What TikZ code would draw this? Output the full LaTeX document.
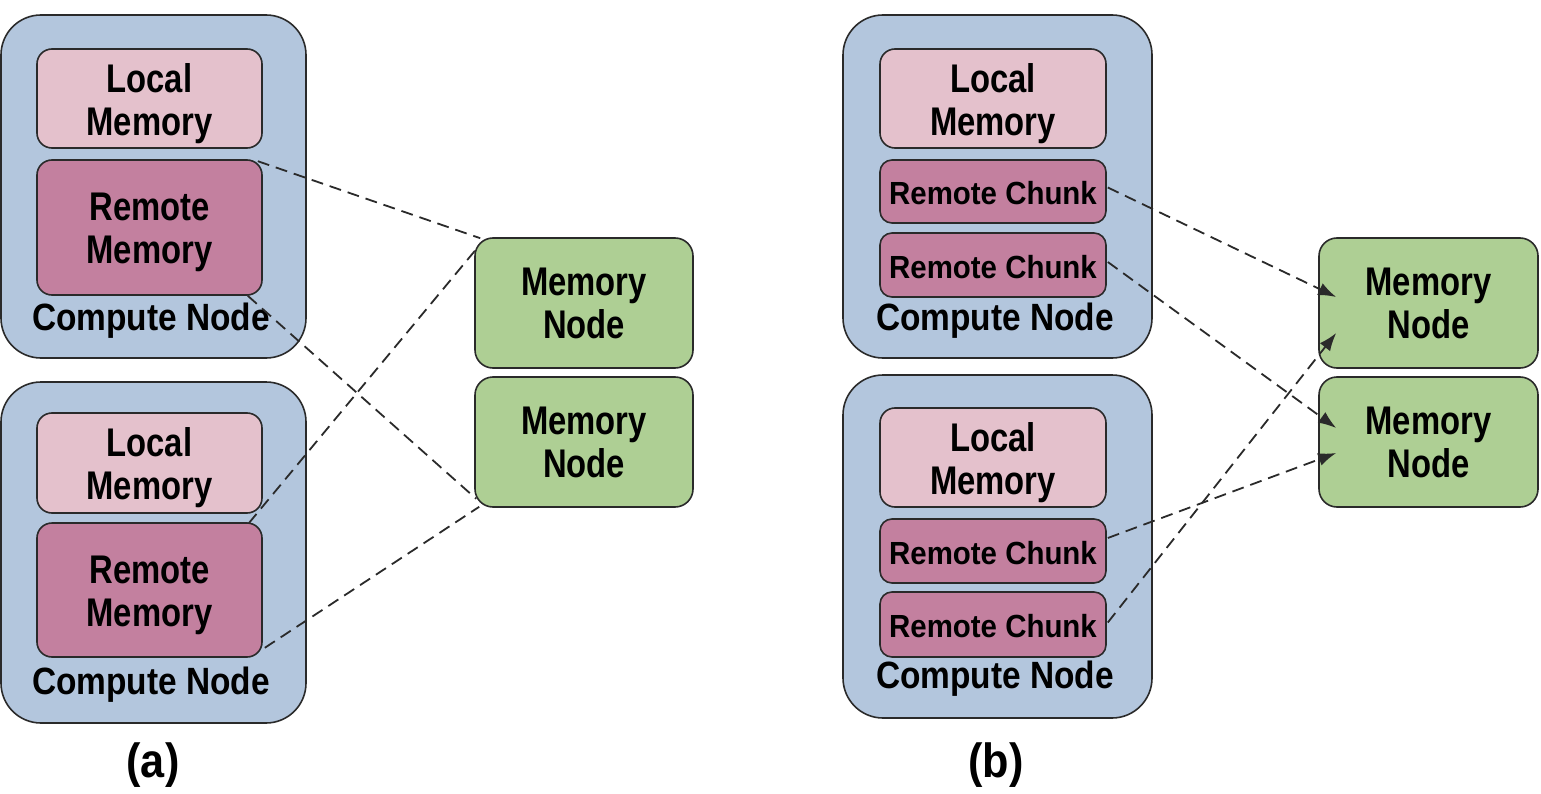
\documentclass[tikz,border=0pt]{standalone}
\usepackage{fontspec}
\setmainfont{Liberation Sans}
\newfontfamily\boxfont[FakeStretch=0.82]{Liberation Sans}
\newfontfamily\cnfont[FakeStretch=0.88]{Liberation Sans}
\newfontfamily\chunkfont[FakeStretch=0.92]{Liberation Sans}
\newfontfamily\capfont[FakeStretch=0.9]{Liberation Sans}
\usetikzlibrary{calc,arrows.meta}

\definecolor{computefill}{HTML}{B3C6DD}
\definecolor{localfill}{HTML}{E4C1CC}
\definecolor{remotefill}{HTML}{C3809F}
\definecolor{memfill}{HTML}{AECF94}
\definecolor{edgecol}{HTML}{2A2A2A}

\tikzset{
  box/.style={draw=edgecol, line width=1.6pt, inner sep=0pt},
  computebox/.style={box, fill=computefill, rounded corners=40pt},
  localbox/.style={box, fill=localfill, rounded corners=15pt},
  remotebox/.style={box, fill=remotefill, rounded corners=15pt},
  chunkbox/.style={box, fill=remotefill, rounded corners=12pt},
  membox/.style={box, fill=memfill, rounded corners=18pt},
  boxtext/.style={inner sep=0pt, align=center,
    font=\boxfont\bfseries\fontsize{40}{43}\selectfont},
  chunktext/.style={inner sep=0pt, font=\chunkfont\bfseries\fontsize{32}{34}\selectfont},
  cnlabel/.style={inner sep=0pt, font=\cnfont\bfseries\fontsize{38}{40}\selectfont},
  sublabel/.style={inner sep=0pt, font=\capfont\bfseries\fontsize{48}{50}\selectfont},
  link/.style={draw=edgecol, line width=1.8pt, dash pattern=on 12pt off 7pt},
  arrowlink/.style={link, -{Latex[length=18pt,width=13pt]}},
}

\begin{document}
\begin{tikzpicture}[x=1pt,y=-1pt]
\useasboundingbox (0,0) rectangle (1541,794);

% ---------- (a) whole remote memory ----------
\node[computebox, minimum width=305pt, minimum height=343pt] (ca1) at (153.5,186.5) {};
\node[localbox, minimum width=225pt, minimum height=99pt] (la1) at (149.5,98.5) {};
\node[boxtext] (la1t) at ($(la1)+(0,5)$) {Local\\Memory};
\node[remotebox, minimum width=225pt, minimum height=135pt] (ra1) at (149.5,227.5) {};
\node[boxtext] (ra1t) at ($(ra1)+(0,5)$) {Remote\\Memory};
\node[cnlabel] (na1) at (151,320.5) {Compute Node};

\node[computebox, minimum width=305pt, minimum height=341pt] (ca2) at (153.5,552.5) {};
\node[localbox, minimum width=225pt, minimum height=100pt] (la2) at (149.5,463) {};
\node[boxtext] (la2t) at ($(la2)+(0,5)$) {Local\\Memory};
\node[remotebox, minimum width=225pt, minimum height=134pt] (ra2) at (149.5,590) {};
\node[boxtext] (ra2t) at ($(ra2)+(0,5)$) {Remote\\Memory};
\node[cnlabel] (na2) at (151,684.5) {Compute Node};

\node[membox, minimum width=218pt, minimum height=130pt] (ma1) at (584,303) {};
\node[boxtext] (ma1t) at (ma1) {Memory\\Node};
\node[membox, minimum width=218pt, minimum height=130pt] (ma2) at (584,442) {};
\node[boxtext] (ma2t) at (ma2) {Memory\\Node};

\draw[link] ($(ra1.north east)+(-5,2)$) -- ($(ma1.north west)+(6,1)$);
\draw[link] ($(ra1.south east)+(-15,0)$) -- ($(ma2.south west)+(2,-9)$);
\draw[link] ($(ra2.north east)+(-14,1)$) -- ($(ma1.north west)+(2,12)$);
\draw[link] ($(ra2.south east)+(2,-10)$) -- ($(ma2.south west)+(5,-1)$);

\node[sublabel] (capa) at (153,765) {(a)};

% ---------- (b) remote memory split into chunks ----------
\node[computebox, minimum width=309pt, minimum height=343pt] (cb1) at (997.5,186.5) {};
\node[localbox, minimum width=226pt, minimum height=99pt] (lb1) at (993,98.5) {};
\node[boxtext] (lb1t) at ($(lb1)+(0,5)$) {Local\\Memory};
\node[chunkbox, minimum width=226pt, minimum height=63pt] (rb11) at (993,191.5) {};
\node[chunktext] (rb11t) at ($(rb11)+(0,2)$) {Remote Chunk};
\node[chunkbox, minimum width=226pt, minimum height=64pt] (rb12) at (993,265) {};
\node[chunktext] (rb12t) at ($(rb12)+(0,2)$) {Remote Chunk};
\node[cnlabel] (nb1) at (995,320.5) {Compute Node};

\node[computebox, minimum width=309pt, minimum height=343pt] (cb2) at (997.5,546.5) {};
\node[localbox, minimum width=226pt, minimum height=99pt] (lb2) at (993,457.5) {};
\node[boxtext] (lb2t) at ($(lb2)+(0,5)$) {Local\\Memory};
\node[chunkbox, minimum width=226pt, minimum height=64pt] (rb21) at (993,551) {};
\node[chunktext] (rb21t) at ($(rb21)+(0,2)$) {Remote Chunk};
\node[chunkbox, minimum width=226pt, minimum height=65pt] (rb22) at (993,624.5) {};
\node[chunktext] (rb22t) at ($(rb22)+(0,2)$) {Remote Chunk};
\node[cnlabel] (nb2) at (995,678.5) {Compute Node};

\node[membox, minimum width=219pt, minimum height=130pt] (mb1) at (1428.5,303) {};
\node[boxtext] (mb1t) at (mb1) {Memory\\Node};
\node[membox, minimum width=219pt, minimum height=130pt] (mb2) at (1428.5,442) {};
\node[boxtext] (mb2t) at (mb2) {Memory\\Node};

\draw[arrowlink] ($(rb11.east)+(1,-4)$) -- ($(mb1.west)+(18,-6)$);
\draw[arrowlink] ($(rb12.east)+(1,-3)$) -- ($(mb2.west)+(18,-14)$);
\draw[arrowlink] ($(rb21.east)+(1,-13)$) -- ($(mb2.west)+(18,11)$);
\draw[arrowlink] ($(rb22.east)+(1,-2)$) -- ($(mb1.west)+(18,30)$);

\node[sublabel] (capb) at (996,765) {(b)};
\end{tikzpicture}
\end{document}
